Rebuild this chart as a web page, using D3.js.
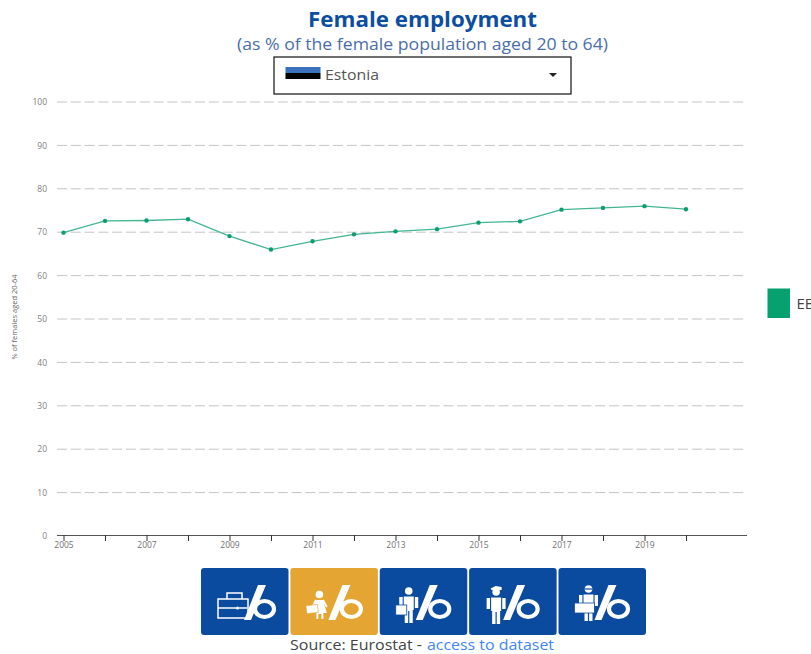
<!DOCTYPE html>
<html><head><meta charset="utf-8">
<script src="https://cdnjs.cloudflare.com/ajax/libs/d3/7.8.5/d3.min.js"></script>
<style>html,body{margin:0;padding:0;background:#fff;overflow:hidden}svg{display:block}text{font-family:"Open Sans",sans-serif}</style>
</head><body><svg id="c" width="811" height="654"></svg>
<script>
const years=[2005,2006,2007,2008,2009,2010,2011,2012,2013,2014,2015,2016,2017,2018,2019,2020];
const values=[69.9,72.6,72.7,73.0,69.1,66.0,67.9,69.5,70.2,70.7,72.2,72.5,75.2,75.6,76.0,75.3];
const yTicks=[0,10,20,30,40,50,60,70,80,90,100];
const xLabels=[2005,2007,2009,2011,2013,2015,2017,2019];
const seriesName="EE";
const country="Estonia";
const buttons=["all","women","men","young","old"];

const svg=d3.select("#c");
const x=d3.scaleLinear().domain([2005,2020]).range([63.5,686]);
const y=d3.scaleLinear().domain([0,100]).range([536,102]);
const stretched=(sel,w)=>sel.attr("textLength",w).attr("lengthAdjust","spacingAndGlyphs");

// titles
stretched(svg.append("text").attr("x",308).attr("y",27).attr("font-size",21).attr("font-weight",700).attr("fill","#0b4ea2").text("Female employment"),229);
stretched(svg.append("text").attr("x",237).attr("y",50).attr("font-size",15.5).attr("fill","#4a6ea9").text("(as % of the female population aged 20 to 64)"),371);

// dropdown
svg.append("rect").attr("x",274).attr("y",57).attr("width",297).attr("height",37).attr("fill","#fff").attr("stroke","#111").attr("stroke-width",1.2);
svg.append("rect").attr("x",285.5).attr("y",67).attr("width",35).attr("height",6).attr("fill","#3a70bd");
svg.append("rect").attr("x",285.5).attr("y",73).attr("width",35).attr("height",6).attr("fill","#000");
stretched(svg.append("text").attr("x",325).attr("y",80).attr("font-size",14.5).attr("fill","#555").text(country),54);
svg.append("path").attr("d","M549 73h8l-4 4z").attr("fill","#222");

// y axis + grid
const yAxis=d3.axisLeft(y).tickValues(yTicks).tickSize(0).tickPadding(10);
const gy=svg.append("g").attr("transform","translate(57,0)").call(yAxis);
gy.select(".domain").remove();
gy.selectAll("text").attr("font-size",8.5).attr("fill","#808080").style("font-family",'"Open Sans",sans-serif');
svg.append("g").selectAll("line").data(yTicks.filter(d=>d>0)).join("line")
  .attr("x1",57).attr("x2",747).attr("y1",d=>y(d)).attr("y2",d=>y(d))
  .attr("stroke","#c4c4c4").attr("stroke-width",1).attr("stroke-dasharray","10 3.8");

svg.append("text").attr("transform","translate(17,317) rotate(-90)").attr("text-anchor","middle").attr("font-size",7.5).attr("fill","#666").text("% of females aged 20-64");

// x axis
const xAxis=d3.axisBottom(x).tickValues(years).tickSize(6).tickFormat(d=>xLabels.includes(d)?d:"");
const gx=svg.append("g").attr("transform","translate(0,535)").call(xAxis);
gx.select(".domain").attr("d","M57,0.5H747").attr("stroke","#555");
gx.selectAll("line").attr("stroke","#333");
gx.selectAll("text").attr("y",7).attr("font-size",8.5).attr("fill","#707070").style("font-family",'"Open Sans",sans-serif');

// line
const line=d3.line().x((d,i)=>x(years[i])).y(d=>y(d));
svg.append("path").attr("d",line(values)).attr("fill","none").attr("stroke","#45b592").attr("stroke-width",1.3);
svg.append("g").selectAll("circle").data(values).join("circle")
  .attr("cx",(d,i)=>x(years[i])).attr("cy",d=>y(d)).attr("r",2.2).attr("fill","#0a9f6f");

// legend
svg.append("rect").attr("x",767.5).attr("y",288.5).attr("width",22.5).attr("height",29.5).attr("fill","#07a06f");
svg.append("text").attr("x",796.5).attr("y",309).attr("font-size",15).attr("fill","#444").text(seriesName);

// buttons
const bw=87.5, bh=67, bs=d3.scalePoint().domain(buttons).range([201,558.5]);
const bg=svg.append("g").selectAll("g").data(buttons).join("g").attr("transform",d=>`translate(${bs(d)},568)`);
bg.append("rect").attr("width",bw).attr("height",bh).attr("rx",3).attr("fill",d=>d==="women"?"#e5a532":"#0a4ba0");
const shift={all:5,women:0,men:-2,young:-4,old:-2};
bg.append("path").attr("d","M38 52L52 17H60L45 52Z").attr("fill","#fff").attr("transform",d=>`translate(${shift[d]},0)`);
bg.append("ellipse").attr("cx",d=>61+shift[d]*.5).attr("cy",41).attr("rx",9.5).attr("ry",8).attr("fill","none").attr("stroke","#fff").attr("stroke-width",4.2);
function person(g,c,top){
  const h=top+4;
  g.append("circle").attr("cx",c).attr("cy",h).attr("r",3.8).attr("fill","#fff");
  g.append("path").attr("d",`M${c-5} ${h+5.5}h10v13.5h-1v13h-3.4v-12h-1.2v12h-3.4v-13h-1z`).attr("fill","#fff");
  g.append("path").attr("d",`M${c-9.5} ${h+6}h3.4v11h-3.4zM${c+6.1} ${h+6}h3.4v11h-3.4z`).attr("fill","#fff");
}
bg.each(function(d){
  const g=d3.select(this);
  if(d==="all"){
    g.append("path").attr("d","M17 31h30v19h-30zM17 40h18M38 40h8M26 31v-6h15v6").attr("fill","none").attr("stroke","#fff").attr("stroke-width",1.5);
    g.append("circle").attr("cx",36.5).attr("cy",40).attr("r",1.6).attr("fill","#fff");
  } else if(d==="women"){
    g.append("circle").attr("cx",29).attr("cy",26.5).attr("r",3.8).attr("fill","#fff");
    g.append("path").attr("d","M25.5 32h7l4 13h-3.5v6h-2v-5h-3v5h-2v-6h-3.500z").attr("fill","#fff");
    g.append("path").attr("d","M25.5 32l-3 7M32.500 32l4 7").attr("stroke","#fff").attr("stroke-width",2);
    g.append("rect").attr("x",16).attr("y",37).attr("width",11.5).attr("height",8).attr("fill","#fff").attr("stroke","#e5a532").attr("stroke-width",.6).attr("transform","rotate(-8 22 41)");
  } else if(d==="men"){
    person(g,29,19);
    g.append("rect").attr("x",16).attr("y",37).attr("width",11).attr("height",10).attr("fill","#fff").attr("stroke","#0a4ba0").attr("stroke-width",.8);
  } else if(d==="young"){
    person(g,27,20);
    g.append("path").attr("d","M21.500 20.500l5-2.500 6 1v3h-10z").attr("fill","#fff");
  } else {
    person(g,30,17);
    g.append("path").attr("d","M26.500 21h7").attr("stroke","#0a4ba0").attr("stroke-width",1.2);
    g.append("rect").attr("x",16).attr("y",35).attr("width",20).attr("height",10).attr("fill","#fff").attr("stroke","#0a4ba0").attr("stroke-width",.8);
  }
});

// source
stretched(svg.append("text").attr("x",290).attr("y",650).attr("font-size",14.5).attr("fill","#444").text("Source: Eurostat -"),132);
stretched(svg.append("text").attr("x",427).attr("y",650).attr("font-size",14.5).attr("fill","#3f86f5").text("access to dataset"),127);
</script></body></html>
